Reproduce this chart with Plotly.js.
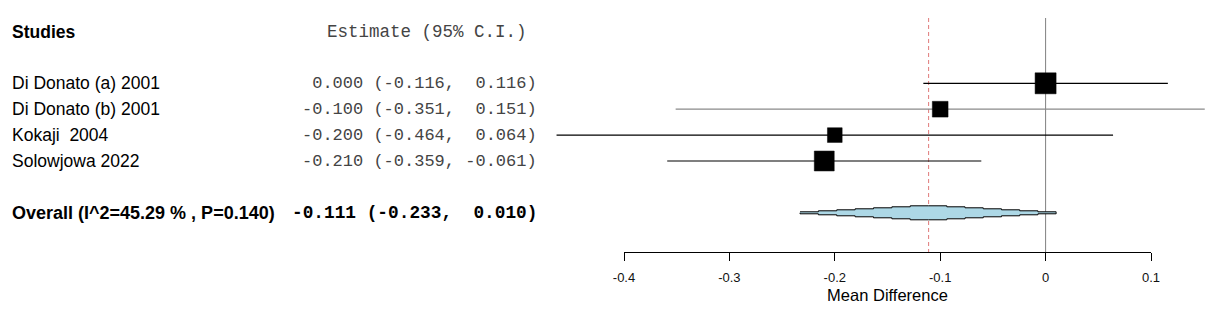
<!DOCTYPE html>
<html><head><meta charset="utf-8">
<script src="https://cdn.plot.ly/plotly-3.0.1.min.js"></script>
<style>html,body{margin:0;padding:0;background:#fff;} #chart{width:1218px;height:311px;}</style>
</head><body><div id="chart"></div>
<script>
// ---- data ----
const studies = ['Di Donato (a) 2001', 'Di Donato (b) 2001', 'Kokaji  2004', 'Solowjowa 2022'];
const estimates = [0.000, -0.100, -0.200, -0.210];
const ciLower = [-0.116, -0.351, -0.464, -0.359];
const ciUpper = [0.116, 0.151, 0.064, -0.061];
const weights = [1.0, 0.56, 0.49, 0.9];
const overallLabel = 'Overall (I^2=45.29 % , P=0.140)';
const overallEstimate = -0.111;
const overallLower = -0.233;
const overallUpper = 0.010;
const tickVals = [-0.4, -0.3, -0.2, -0.1, 0, 0.1];
const tickLabels = ['-0.4', '-0.3', '-0.2', '-0.1', '0', '0.1'];
const studiesHeader = 'Studies';
const estimateHeader = 'Estimate (95% C.I.)';
const xAxisTitle = 'Mean Difference';

// ---- styles / layout helpers ----
const W = 1218, H = 311;
const axisLeftPx = 624, axisRightPx = 1151, axisYPx = 252;
const axisMin = tickVals[0], axisMax = tickVals[tickVals.length - 1];
const unitsPerPx = (axisMax - axisMin) / (axisRightPx - axisLeftPx);
const dataRange = [axisMin - axisLeftPx * unitsPerPx, axisMax + (W - axisRightPx) * unitsPerPx];
const rowPx0 = 31.5, rowStep = 25.9;
const yRange = [(H - rowPx0) / rowStep, -rowPx0 / rowStep];
const headerRow = 0, firstStudyRow = 2;
const overallRow = firstStudyRow + studies.length + 1;
const ciColors = ['#000', '#8a8a8a', '#000', '#000'];
const ciWidths = [1.2, 1.2, 1.2, 1.2];
const SANS = 'Liberation Sans, Arial, sans-serif';
const MONO = 'Liberation Mono, Courier New, monospace';
const nb = s => s.replace(/ /g, '\u00a0');
const pad = (s, n) => (' '.repeat(Math.max(0, n - s.length)) + s);
const f3 = v => pad(v.toFixed(3), 6);
const estText = (e, l, u) => nb(f3(e) + ' (' + f3(l) + ', ' + f3(u) + ')');

const traces = [];
// CI lines
studies.forEach((s, i) => {
  traces.push({
    x: [ciLower[i], ciUpper[i]], y: [firstStudyRow + i, firstStudyRow + i],
    mode: 'lines', line: {color: ciColors[i], width: ciWidths[i]},
    hoverinfo: 'skip', showlegend: false
  });
});
// boxes
traces.push({
  x: estimates, y: studies.map((s, i) => firstStudyRow + i),
  mode: 'markers',
  marker: {symbol: 'square', color: '#000000', opacity: 1, size: weights.map(w => 21 * Math.sqrt(w)),
    line: {width: 0.5, color: '#000000'}},
  hoverinfo: 'skip', showlegend: false
});
// stepped diamond
(function () {
  const N = 7, h = 7 / rowStep;
  const segs = [];
  for (let k = 0; k < N; k++) {
    segs.push([overallLower + (overallEstimate - overallLower) * k / N,
               overallLower + (overallEstimate - overallLower) * (k + 1) / N, h * (k + 1) / N]);
  }
  for (let j = 0; j < N; j++) {
    segs.push([overallEstimate + (overallUpper - overallEstimate) * j / N,
               overallEstimate + (overallUpper - overallEstimate) * (j + 1) / N, h * (N - j) / N]);
  }
  const xs = [], ys = [];
  segs.forEach(sg => { xs.push(sg[0]); ys.push(overallRow - sg[2]); });
  xs.push(segs[segs.length - 1][1]); ys.push(overallRow);
  for (let i = segs.length - 1; i >= 0; i--) { xs.push(segs[i][1]); ys.push(overallRow + segs[i][2]); }
  xs.push(segs[0][0]); ys.push(overallRow);
  traces.push({
    x: xs, y: ys, mode: 'lines', fill: 'toself', fillcolor: '#ADD8E6',
    line: {color: '#000', width: 1, shape: 'hv'}, hoverinfo: 'skip', showlegend: false
  });
})();
// invisible trace to hold the visible axis subplot
traces.push({x: [axisMin], y: [0.5], xaxis: 'x2', yaxis: 'y2', mode: 'markers',
  marker: {opacity: 0}, hoverinfo: 'skip', showlegend: false});

const annotations = [];
const addText = (text, xpx, row, anchor, font) => annotations.push({
  text: text, xref: 'paper', yref: 'y', x: xpx / W, y: row, xanchor: anchor, yanchor: 'middle',
  showarrow: false, borderpad: 0, font: font
});
addText('<b>' + studiesHeader + '</b>', 11, headerRow, 'left', {family: SANS, size: 17.5, color: '#000'});
addText(nb(estimateHeader), 528, headerRow, 'right', {family: MONO, size: 17.5, color: '#444'});
studies.forEach((s, i) => {
  addText(nb(s), 11, firstStudyRow + i, 'left', {family: SANS, size: 17.5, color: '#000'});
  addText(estText(estimates[i], ciLower[i], ciUpper[i]), 538, firstStudyRow + i, 'right', {family: MONO, size: 17, color: '#444'});
});
addText('<b>' + nb(overallLabel) + '</b>', 11, overallRow, 'left', {family: SANS, size: 18, color: '#000'});
addText('<b>' + estText(overallEstimate, overallLower, overallUpper) + '</b>', 538, overallRow, 'right', {family: MONO, size: 17.8, color: '#000'});

const topRow = (18 - rowPx0) / rowStep, bottomRow = (axisYPx - rowPx0) / rowStep;
const layout = {
  width: W, height: H, margin: {l: 0, r: 0, t: 0, b: 0},
  paper_bgcolor: '#fff', plot_bgcolor: 'rgba(0,0,0,0)', showlegend: false,
  xaxis: {domain: [0, 1], range: dataRange, visible: false, fixedrange: true},
  yaxis: {domain: [0, 1], range: yRange, visible: false, fixedrange: true},
  xaxis2: {domain: [axisLeftPx / W, axisRightPx / W], anchor: 'y2', range: [axisMin, axisMax],
    showline: true, linecolor: '#000', linewidth: 1, ticks: 'outside', ticklen: 8, tickwidth: 1,
    tickcolor: '#000', tickmode: 'array', tickvals: tickVals, ticktext: tickLabels,
    ticklabelstandoff: 5,
    tickfont: {family: SANS, size: 13, color: '#111'}, showgrid: false, zeroline: false, fixedrange: true,
    title: {text: xAxisTitle, font: {family: SANS, size: 16.5, color: '#000'}, standoff: 5}},
  yaxis2: {domain: [(H - axisYPx) / H, 1], anchor: 'x2', range: [0, 1], visible: false, fixedrange: true},
  shapes: [
    {type: 'line', xref: 'x', yref: 'y', x0: 0, x1: 0, y0: topRow, y1: bottomRow,
      line: {color: '#808080', width: 1}, layer: 'below'},
    {type: 'line', xref: 'x', yref: 'y', x0: overallEstimate, x1: overallEstimate, y0: topRow, y1: bottomRow,
      line: {color: '#E07A7A', width: 1, dash: '4px,3px'}, layer: 'below'}
  ],
  annotations: annotations
};
Plotly.newPlot('chart', traces, layout, {staticPlot: true, displayModeBar: false});
</script></body></html>
